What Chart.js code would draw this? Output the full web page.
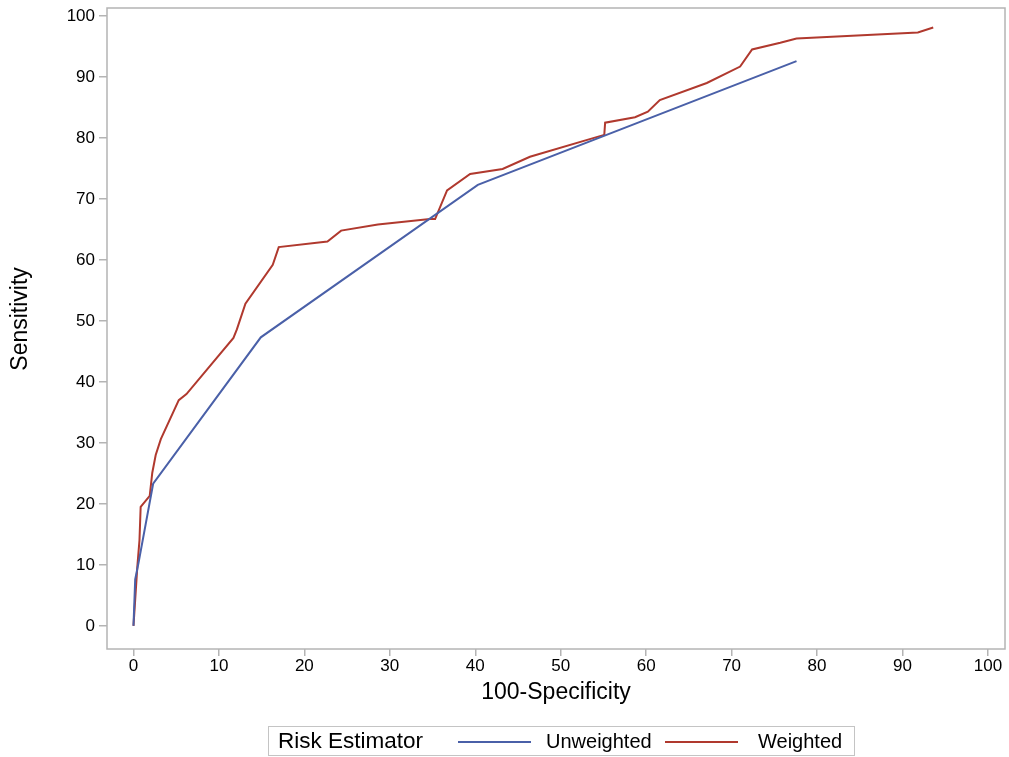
<!DOCTYPE html>
<html>
<head>
<meta charset="utf-8">
<script src="https://cdn.jsdelivr.net/npm/chart.js@4"></script>
<style>
  html, body { margin: 0; padding: 0; background: #fff; }
  #wrap { position: relative; width: 1009px; height: 757px; }
  #legend {
    position: absolute; left: 268px; top: 726px; width: 587px; height: 30px;
    border: 1px solid #c4c4c4; font-family: "Liberation Sans", Arial, sans-serif;
    font-size: 20px; color: #000; box-sizing: border-box;
  }
  #legend span { position: absolute; top: 3px; white-space: nowrap; }
  #legend .ttl { font-size: 22.5px; top: 1px; }
  #legend i { position: absolute; top: 14px; height: 0; border-top: 2px solid; width: 73px; }
</style>
</head>
<body>
<div id="wrap">
  <canvas id="roc" width="1009" height="757"></canvas>
  <div id="legend">
    <span class="ttl" style="left:9px">Risk Estimator</span>
    <i style="left:189px;border-color:#4a60a8"></i>
    <span style="left:277px">Unweighted</span>
    <i style="left:396px;border-color:#b0392e"></i>
    <span style="left:489px">Weighted</span>
  </div>
</div>
<script>
// ROC curves: x = 100-Specificity, y = Sensitivity
const unweightedX = [0, 0.2, 0.6, 2.3, 14.9, 40.3, 77.6];
const unweightedY = [0, 7.6, 10.4, 23.3, 47.3, 72.3, 92.6];

const weightedX = [0, 0.2, 0.45, 0.7, 0.84, 1.9, 2.2, 2.6, 3.2, 5.3, 6.2, 11.7, 12.1, 13.1, 16.3, 17.0, 22.7, 24.3, 28.6, 34.7, 35.3, 36.7, 39.4, 43.2, 46.4, 55.1, 55.2, 58.7, 60.2, 61.6, 67.1, 71.0, 72.4, 75.7, 77.6, 91.8, 93.6];
const weightedY = [0, 4.3, 9.7, 14.0, 19.5, 21.3, 25.1, 28.0, 30.6, 37.0, 38.0, 47.2, 48.6, 52.8, 59.2, 62.1, 63.0, 64.8, 65.8, 66.7, 66.7, 71.4, 74.1, 74.9, 76.9, 80.5, 82.5, 83.4, 84.3, 86.2, 89.0, 91.7, 94.5, 95.6, 96.3, 97.3, 98.1];

const tickValues = [0, 10, 20, 30, 40, 50, 60, 70, 80, 90, 100];

function toPoints(xs, ys) {
    return xs.map((x, i) => ({ x: x, y: ys[i] }));
}

const frameColor = '#b4b4b4';
const font = 'Liberation Sans, Arial, sans-serif';

// gray box around the plot area
const frame = {
    id: 'frame',
    afterDraw(chart) {
        const a = chart.chartArea;
        const c = chart.ctx;
        c.save();
        c.strokeStyle = frameColor;
        c.lineWidth = 1.5;
        c.strokeRect(a.left, a.top, a.right - a.left, a.bottom - a.top);
        c.restore();
    }
};

const fixTicks = scale => { scale.ticks = tickValues.map(v => ({ value: v })); };

new Chart(document.getElementById('roc'), {
    type: 'scatter',
    data: {
        datasets: [{
            label: 'Unweighted',
            data: toPoints(unweightedX, unweightedY),
            borderColor: '#4a60a8',
            borderWidth: 2,
            showLine: true,
            pointRadius: 0,
            tension: 0
        }, {
            label: 'Weighted',
            data: toPoints(weightedX, weightedY),
            borderColor: '#b0392e',
            borderWidth: 2,
            showLine: true,
            pointRadius: 0,
            tension: 0
        }]
    },
    options: {
        responsive: false,
        animation: false,
        layout: { padding: { left: 0, right: 4, top: 8, bottom: 42 } },
        plugins: { legend: { display: false }, tooltip: { enabled: false } },
        scales: {
            x: {
                type: 'linear',
                min: -3.1,
                max: 102,
                afterBuildTicks: fixTicks,
                afterFit: s => { s.height = 66; s.paddingLeft = 0; s.paddingRight = 0; },
                border: { display: false },
                grid: { drawOnChartArea: false, drawTicks: true, tickLength: 7, color: frameColor, lineWidth: 1.5 },
                ticks: { color: '#000', padding: 0, maxRotation: 0, font: { family: font, size: 17 } },
                title: { display: true, text: '100-Specificity', color: '#000', padding: { top: 0, bottom: 9 }, font: { family: font, size: 23 } }
            },
            y: {
                type: 'linear',
                min: -3.8,
                max: 101.3,
                afterBuildTicks: fixTicks,
                afterFit: s => { s.width = 107; s.paddingTop = 0; s.paddingBottom = 0; },
                border: { display: false },
                grid: { drawOnChartArea: false, drawTicks: true, tickLength: 8, color: frameColor, lineWidth: 1.5 },
                ticks: { color: '#000', padding: 4, font: { family: font, size: 17 } },
                // leading spaces nudge the title a little above the axis centre, as in the original
                title: { display: true, text: '   Sensitivity', color: '#000', padding: { top: 7, bottom: 0 }, font: { family: font, size: 23 } }
            }
        }
    },
    plugins: [frame]
});
</script>
</body>
</html>
